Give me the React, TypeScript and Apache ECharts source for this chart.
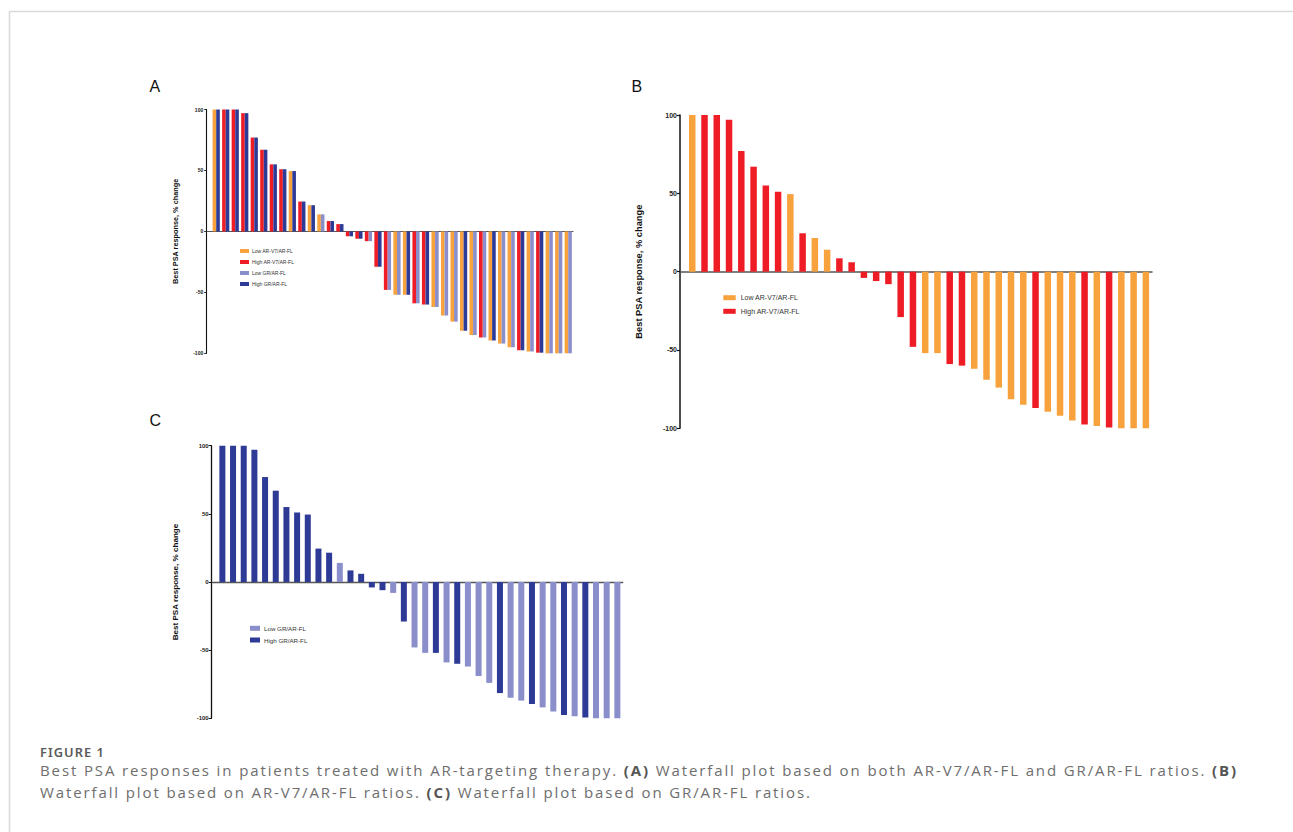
import React, { useEffect, useRef } from 'react';
import * as echarts from 'echarts';

// ---------- data ----------
const patientIds = [1, 2, 3, 4, 5, 6, 7, 8, 9, 10, 11, 12, 13, 14, 15, 16, 17, 18, 19, 20, 21, 22, 23, 24, 25, 26, 27, 28, 29, 30, 31, 32, 33, 34, 35, 36, 37, 38];
const psaChange = [100, 100, 100, 97, 77, 67, 55, 51, 49.5, 24.5, 21.5, 14, 8.5, 6, -4, -6, -8, -29, -48, -52, -52, -59, -60, -62, -69, -74, -81.5, -85, -87, -89.5, -92, -95, -97.5, -98.5, -99.5, -100, -100, -100];
const arV7Group = ['Low', 'High', 'High', 'High', 'High', 'High', 'High', 'High', 'Low', 'High', 'Low', 'Low', 'High', 'High', 'High', 'High', 'High', 'High', 'High', 'Low', 'Low', 'High', 'High', 'Low', 'Low', 'Low', 'Low', 'Low', 'High', 'Low', 'Low', 'Low', 'High', 'Low', 'High', 'Low', 'Low', 'Low'];
const grGroup = ['High', 'High', 'High', 'High', 'High', 'High', 'High', 'High', 'High', 'High', 'High', 'Low', 'High', 'High', 'High', 'High', 'Low', 'High', 'Low', 'Low', 'High', 'Low', 'High', 'Low', 'Low', 'Low', 'High', 'Low', 'Low', 'High', 'Low', 'Low', 'High', 'Low', 'High', 'Low', 'Low', 'Low'];
const yTicks = [-100, -50, 0, 50, 100];
const seriesNames = ['Low AR-V7/AR-FL', 'High AR-V7/AR-FL', 'Low GR/AR-FL', 'High GR/AR-FL'];
const panelLabels = ['A', 'B', 'C'];
const yAxisTitle = 'Best PSA response, % change';
const figureLabel = 'FIGURE 1';
const captionLine1 = [
  { t: 'Best PSA responses in patients treated with AR-targeting therapy. ', b: false },
  { t: '(A)', b: true },
  { t: ' Waterfall plot based on both AR-V7/AR-FL and GR/AR-FL ratios. ', b: false },
  { t: '(B)', b: true },
];
const captionLine2 = [
  { t: 'Waterfall plot based on AR-V7/AR-FL ratios. ', b: false },
  { t: '(C)', b: true },
  { t: ' Waterfall plot based on GR/AR-FL ratios.', b: false },
];

const COLORS: Record<string, string> = {
  'Low AR-V7/AR-FL': '#F7A23C',
  'High AR-V7/AR-FL': '#EE1D25',
  'Low GR/AR-FL': '#8A8ECB',
  'High GR/AR-FL': '#2D3A96',
};

const ARIAL = '"Liberation Sans", Arial, sans-serif';
const CAPTION_FAMILY = '"Open Sans", sans-serif';
const FIGLABEL_FAMILY = '"Noto Sans", sans-serif';
const CAPTION_SIZE = 15;
const FIGLABEL_SIZE = 12.8;
const CAPTION_X = 40;
const LINE1_RIGHT = 1238;
const FIGLABEL_RIGHT = 105;

function pick(groups: string[], g: string) {
  return psaChange.map((v, i) => [patientIds[i], groups[i] === g ? v : '-']);
}

// panel geometry (pixels)
const panels = [
  { left: 206.7, top: 109.5, right: 573, bottom: 353.3, labelSize: 5, tickLen: 2.5, margin: 3.5, lineW: 1.1, titleX: 175.5, titleSize: 7.3 },
  { left: 680, top: 115, right: 1152, bottom: 428.3, labelSize: 7, tickLen: 3, margin: 3, lineW: 1.5, titleX: 639, titleSize: 9.3 },
  { left: 211.7, top: 445.7, right: 622.7, bottom: 718.3, labelSize: 6, tickLen: 3, margin: 3, lineW: 1.3, titleX: 175.7, titleSize: 8.1 },
];

function measurer() {
  const ctx = document.createElement('canvas').getContext('2d') as CanvasRenderingContext2D;
  return (text: string, weight: string | number, size: number, family: string) => {
    ctx.font = `${weight} ${size}px ${family}`;
    return ctx.measureText(text).width;
  };
}

function buildOption(captionSpacing: number, measure: ReturnType<typeof measurer>) {
  const grid = panels.map((p) => ({
    left: p.left,
    top: p.top,
    width: p.right - p.left,
    height: p.bottom - p.top,
    outerBoundsMode: 'none',
    containLabel: false,
  }));

  const xAxisBase = (gridIndex: number, showLine: boolean, lineW: number) => ({
    type: 'value',
    gridIndex,
    min: 0,
    max: patientIds.length + 0.5,
    axisLine: { show: showLine, onZero: true, lineStyle: { color: '#555', width: lineW } },
    axisTick: { show: false },
    axisLabel: { show: false },
    splitLine: { show: false },
  });

  const xAxis = [
    xAxisBase(0, true, 1.1),
    xAxisBase(0, false, 1.1),
    xAxisBase(1, true, 1.5),
    xAxisBase(2, true, 1.3),
  ];

  const yAxis = panels.map((p, i) => ({
    type: 'value',
    gridIndex: i,
    min: yTicks[0],
    max: yTicks[yTicks.length - 1],
    interval: yTicks[1] - yTicks[0],
    axisLine: { show: true, onZero: false, lineStyle: { color: '#111', width: p.lineW } },
    axisTick: { show: true, length: p.tickLen, lineStyle: { color: '#111', width: p.lineW * 0.8 } },
    axisLabel: { fontSize: p.labelSize, fontWeight: 'bold', color: '#222', margin: p.margin, fontFamily: ARIAL },
    splitLine: { show: false },
  }));

  const bar = (name: string, xAxisIndex: number, yAxisIndex: number, groups: string[], g: string, barWidth: number, barGap: string) => ({
    name,
    type: 'bar',
    xAxisIndex,
    yAxisIndex,
    data: pick(groups, g),
    barWidth,
    barGap,
    itemStyle: { color: COLORS[name] },
    emphasis: { disabled: true },
  });

  const series = [
    // Panel A: AR-V7 bar left, GR bar right within each patient
    bar(seriesNames[0], 0, 0, arV7Group, 'Low', 3.6, '0%'),
    bar(seriesNames[2], 0, 0, grGroup, 'Low', 3.6, '0%'),
    bar(seriesNames[1], 1, 0, arV7Group, 'High', 3.6, '0%'),
    bar(seriesNames[3], 1, 0, grGroup, 'High', 3.6, '0%'),
    // Panel B
    bar(seriesNames[0], 2, 1, arV7Group, 'Low', 6.5, '-100%'),
    bar(seriesNames[1], 2, 1, arV7Group, 'High', 6.5, '-100%'),
    // Panel C
    bar(seriesNames[2], 3, 2, grGroup, 'Low', 6, '-100%'),
    bar(seriesNames[3], 3, 2, grGroup, 'High', 6, '-100%'),
  ];

  const legendBase = {
    orient: 'vertical',
    icon: 'rect',
    padding: 0,
    selectedMode: false,
  };
  const legend = [
    { ...legendBase, data: seriesNames, left: 240, top: 247.5, itemWidth: 9, itemHeight: 4, itemGap: 4, textStyle: { fontSize: 5, lineHeight: 7, color: '#333', fontFamily: ARIAL, padding: [0, 0, 0, -2] } },
    { ...legendBase, data: seriesNames.slice(0, 2), left: 723.3, top: 293.2, itemWidth: 12.4, itemHeight: 5, itemGap: 4.6, textStyle: { fontSize: 7, lineHeight: 9, color: '#333', fontFamily: ARIAL } },
    { ...legendBase, data: seriesNames.slice(2, 4), left: 250, top: 624.3, itemWidth: 10, itemHeight: 5, itemGap: 3.7, textStyle: { fontSize: 6.2, lineHeight: 8, color: '#333', fontFamily: ARIAL, padding: [0, 0, 0, -1] } },
  ];

  // caption segments laid out left to right (spacing includes CSS letter-spacing)
  const captionLine = (segs: { t: string; b: boolean }[], y: number) => {
    let x = CAPTION_X;
    return segs.map((s) => {
      const el = {
        type: 'text', x, y,
        style: {
          text: s.t, fontSize: CAPTION_SIZE, fontFamily: CAPTION_FAMILY, fontWeight: s.b ? 700 : 400,
          fill: s.b ? '#555' : '#6e6e6e', textVerticalAlign: 'middle', textAlign: 'left',
        },
      };
      x += measure(s.t, s.b ? 700 : 400, CAPTION_SIZE, CAPTION_FAMILY) + captionSpacing * s.t.length;
      return el;
    });
  };

  const graphic: any[] = [
    { type: 'polyline', shape: { points: [[9.5, 832], [9.5, 11.5], [1293, 11.5]] }, style: { stroke: '#d9d9d9', lineWidth: 1.6, fill: null }, silent: true },
    { type: 'text', x: 149.5, y: 86.5, style: { text: panelLabels[0], fontSize: 16, fontFamily: ARIAL, fill: '#111', textVerticalAlign: 'middle' } },
    { type: 'text', x: 631.5, y: 86.5, style: { text: panelLabels[1], fontSize: 16, fontFamily: ARIAL, fill: '#111', textVerticalAlign: 'middle' } },
    { type: 'text', x: 149.5, y: 420.5, style: { text: panelLabels[2], fontSize: 16, fontFamily: ARIAL, fill: '#111', textVerticalAlign: 'middle' } },
    ...panels.map((p) => ({
      type: 'text',
      x: p.titleX,
      y: (p.top + p.bottom) / 2,
      rotation: Math.PI / 2,
      style: { text: yAxisTitle, fontSize: p.titleSize, fontWeight: 'bold', fontFamily: ARIAL, fill: '#111', textAlign: 'center', textVerticalAlign: 'middle' },
    })),
    { type: 'text', x: CAPTION_X, y: 752, style: { text: figureLabel, fontSize: FIGLABEL_SIZE, fontWeight: 600, fontFamily: FIGLABEL_FAMILY, fill: '#5a5a5a', textVerticalAlign: 'middle', textAlign: 'left' } },
    ...captionLine(captionLine1, 769.5),
    ...captionLine(captionLine2, 791.5),
  ];

  return {
    animation: false,
    backgroundColor: '#ffffff',
    textStyle: { fontFamily: ARIAL },
    grid,
    xAxis,
    yAxis,
    series,
    legend,
    graphic,
  };
}

export default function App() {
  const ref = useRef<HTMLDivElement>(null);
  const styleRef = useRef<HTMLStyleElement>(null);
  useEffect(() => {
    if (!ref.current) return;
    const measure = measurer();
    // letter spacing so the caption fills the same width as the original typesetting
    const line1Chars = captionLine1.reduce((n, s) => n + s.t.length, 0);
    const line1Width = captionLine1.reduce((w, s) => w + measure(s.t, s.b ? 700 : 400, CAPTION_SIZE, CAPTION_FAMILY), 0);
    const captionSpacing = Math.max(0, (LINE1_RIGHT - CAPTION_X - line1Width) / line1Chars);
    const figWidth = measure(figureLabel, 600, FIGLABEL_SIZE, FIGLABEL_FAMILY);
    const figSpacing = Math.max(0, (FIGLABEL_RIGHT - CAPTION_X - figWidth) / figureLabel.length);
    if (styleRef.current) {
      styleRef.current.textContent =
        `text[style*="Open Sans"]{letter-spacing:${captionSpacing.toFixed(3)}px;}` +
        `text[style*="Noto Sans"]{letter-spacing:${figSpacing.toFixed(3)}px;}`;
    }
    const chart = echarts.init(ref.current, undefined, { renderer: 'svg' });
    chart.setOption(buildOption(captionSpacing, measure) as any);
    return () => chart.dispose();
  }, []);
  return (
    <>
      <style ref={styleRef} />
      <div ref={ref} style={{ position: 'absolute', left: 0, top: 0, width: 1293, height: 832, background: '#fff' }} />
    </>
  );
}
